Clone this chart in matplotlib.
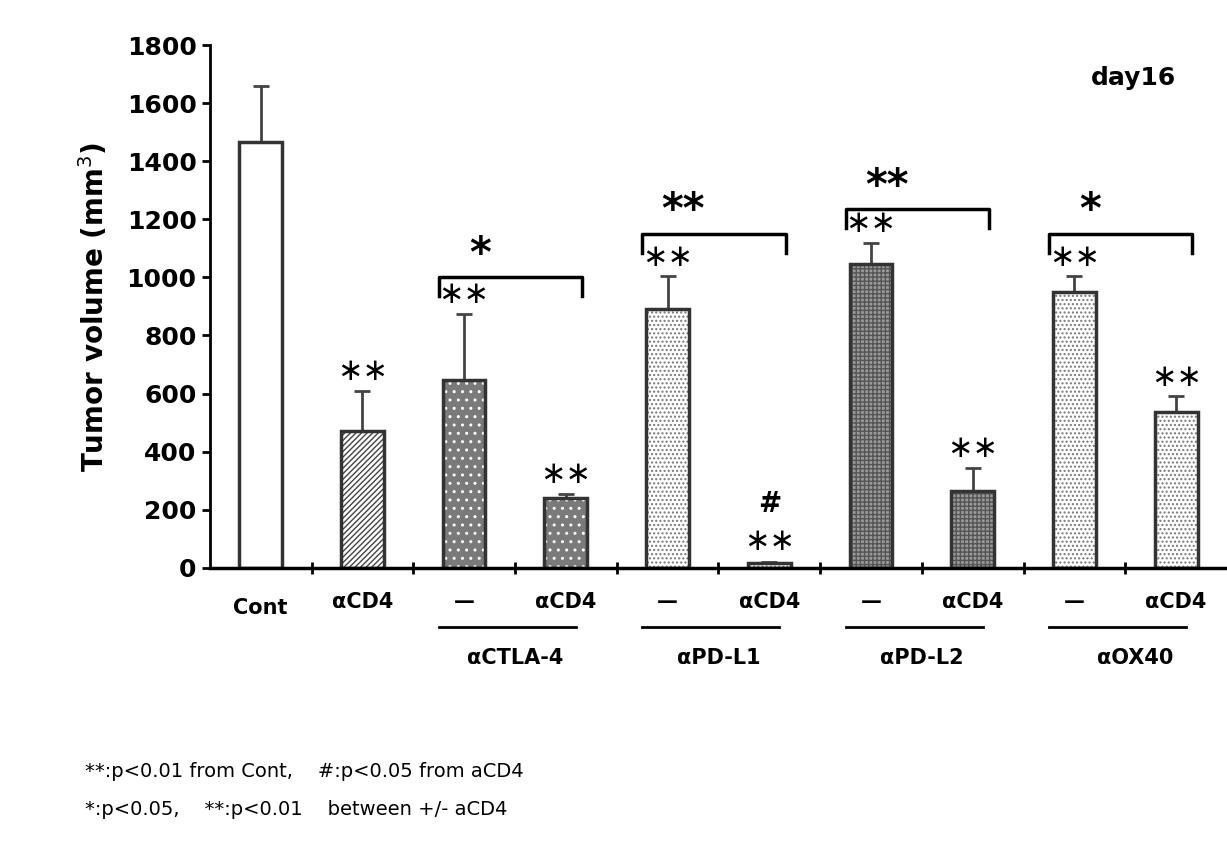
import matplotlib
matplotlib.use("Agg")
import matplotlib.pyplot as plt
import numpy as np

labels = ["Cont", "αCD4", "—", "αCD4", "—", "αCD4", "—", "αCD4", "—", "αCD4"]
values = [1465, 470, 645, 240, 890, 15, 1045, 265, 950, 535]
errors = [195, 140, 230, 15, 115, 5, 75, 80, 55, 55]
groups = ["αCTLA-4", "αPD-L1", "αPD-L2", "αOX40"]
sig_cont = ["", "**", "**", "**", "**", "**", "**", "**", "**", "**"]
pair_sig = ["*", "**", "**", "*"]
pair_y = [1000, 1150, 1235, 1150]

faces = ["white", "white", "#7a7a7a", "#7a7a7a", "white", "white", "#9a9a9a", "#9a9a9a", "white", "white"]
hatches = [None, "//////", "..", "..", "....", "....", "++++", "++++", "....", "...."]
hcolors = ["k", "#444", "white", "white", "#777", "#777", "#555", "#555", "#777", "#777"]

fig = plt.figure(figsize=(12.27, 8.5), dpi=100)
ax = fig.add_axes([0.171, 0.332, 0.829, 0.615])
x = np.arange(len(values))
for i in x:
    b = ax.bar(i, values[i], width=0.42, color=faces[i], edgecolor="#333", linewidth=2.5,
               hatch=hatches[i], zorder=2)
    b[0]._hatch_color = matplotlib.colors.to_rgba(hcolors[i])
    ax.errorbar(i, values[i], yerr=[[0], [errors[i]]], color="#444", capsize=6, lw=2, capthick=2, zorder=1)
    if sig_cont[i]:
        yy = values[i] + errors[i] + 15
        if i == 5:
            yy = values[i] + errors[i] + 20
            ax.text(i, yy + 130, "#", ha="center", va="bottom", fontsize=20, fontweight="bold")
        ax.text(i, yy, "∗∗", ha="center", va="bottom", fontsize=22)

for k in range(4):
    a = 2 + 2 * k
    x0, x1, y = a - 0.25, a + 1.16, pair_y[k]
    ax.plot([x0, x0, x1, x1], [y - 65, y, y, y - 65], color="k", lw=2.5, clip_on=False)
    ax.text((x0 + x1) / 2 - 0.3, y + 5, pair_sig[k], ha="center", va="bottom", fontsize=30, fontweight="bold")

ax.set_xlim(-0.5, 9.5)
ax.set_ylim(0, 1800)
ax.set_yticks(range(0, 1801, 200))
ax.tick_params(axis="y", labelsize=18, width=2, length=6)
for t in ax.get_yticklabels():
    t.set_fontweight("bold")
ax.set_xticks(np.arange(0.5, 9.5, 1))
ax.set_xticklabels([])
ax.tick_params(axis="x", direction="inout", length=8, width=2)
ax.spines["top"].set_visible(False)
ax.spines["right"].set_visible(False)
ax.spines["left"].set_linewidth(2)
ax.spines["bottom"].set_linewidth(2.5)
ax.set_ylabel("Tumor volume (mm$^3$)", fontsize=20, fontweight="bold", labelpad=12)
ax.text(0.95, 0.96, "day16", transform=ax.transAxes, ha="right", va="top", fontsize=18, fontweight="bold")

for i, l in enumerate(labels):
    yl = -137 if i == 0 else -117
    ax.text(i, yl, l, ha="center", va="center", fontsize=15, fontweight="bold")
for k, g in enumerate(groups):
    a = 2 + 2 * k
    ax.plot([a - 0.25, a + 1.1], [-203, -203], color="k", lw=2, clip_on=False)
    ax.text(a + 0.5 + (0.1 if k == 3 else 0), -310, g, ha="center", va="center", fontsize=15, fontweight="bold")

fig.text(0.069, 0.086, "**:p<0.01 from Cont,    #:p<0.05 from aCD4", fontsize=14)
fig.text(0.069, 0.041, "*:p<0.05,    **:p<0.01    between +/- aCD4", fontsize=14)
fig.savefig("out.png", dpi=100)
